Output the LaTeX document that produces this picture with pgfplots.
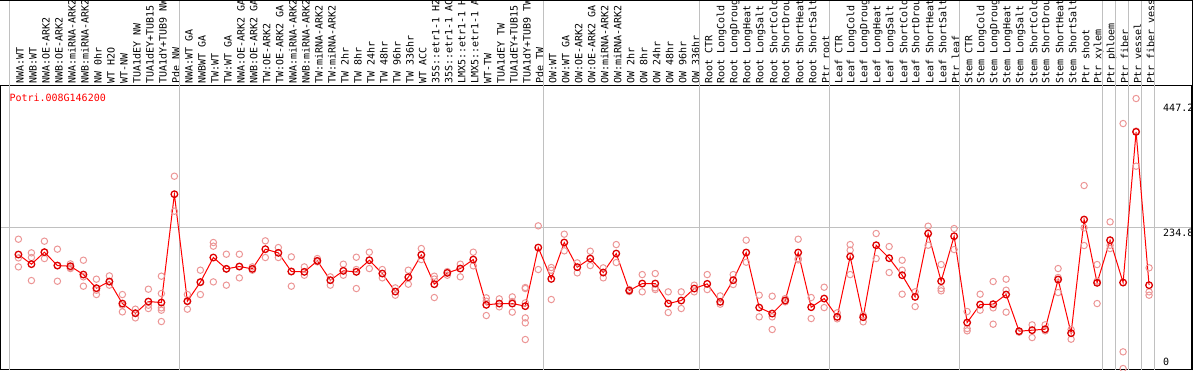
\documentclass[border=0pt]{standalone}
\usepackage{pgfplots}
\pgfplotsset{compat=1.18}
\usepackage{fontspec}
\newfontfamily\monofont{DejaVu Sans Mono}
\definecolor{repc}{RGB}{236,150,150}
\definecolor{meanc}{RGB}{220,0,0}
\definecolor{linec}{RGB}{255,0,0}
\definecolor{gridc}{RGB}{192,192,192}
\newcommand{\lblfont}{\monofont\fontsize{10}{12}\selectfont}
\begin{document}
\begin{tikzpicture}[x=1pt,y=1pt]
\useasboundingbox (0,0) rectangle (1194,370);
\begin{axis}[
  at={(1,0.5)}, anchor=south west, scale only axis,
  width=1191.5pt, height=284pt,
  xmin=-0.408, xmax=91.27, ymin=-1.67, ymax=471.67,
  axis line style={line width=1pt, black},
  xtick={1,...,88},
  xticklabels={NWA:WT,NWB:WT,NWA:OE-ARK2,NWB:OE-ARK2,NWA:miRNA-ARK2,NWB:miRNA-ARK2,NW 0hr,WT H2O,WT-NW,TUA1dEY NW,TUA1dEY+TUB15,TUA1dY+TUB9 NW,Pde NW,
    NWA:WT GA,NWBWT GA,TW:WT,TW:WT GA,NWA:OE-ARK2 GA,NWB:OE-ARK2 GA,TW:OE-ARK2,TW:OE-ARK2 GA,NWA:miRNA-ARK2 GA,NWB:miRNA-ARK2 GA,TW:miRNA-ARK2,TW:miRNA-ARK2 GA,TW 2hr,TW 8hr,TW 24hr,TW 48hr,TW 96hr,TW 336hr,WT ACC,35S::etr1-1 H2O,35S::etr1-1 ACC,LMX5::etr1-1 H2O,LMX5::etr1-1 ACC,WT-TW,TUA1dEY TW,TUA1dEY+TUB15 TW,TUA1dY+TUB9 TW,Pde TW,
    OW:WT,OW:WT GA,OW:OE-ARK2,OW:OE-ARK2 GA,OW:miRNA-ARK2,OW:miRNA-ARK2 GA,OW 2hr,OW 8hr,OW 24hr,OW 48hr,OW 96hr,OW 336hr,
    Root CTR,Root LongCold,Root LongDrought,Root LongHeat,Root LongSalt,Root ShortCold,Root ShortDrought,Root ShortHeat,Root ShortSalt,Ptr root,
    Leaf CTR,Leaf LongCold,Leaf LongDrought,Leaf LongHeat,Leaf LongSalt,Leaf ShortCold,Leaf ShortDrought,Leaf ShortHeat,Leaf ShortSalt,Ptr leaf,
    Stem CTR,Stem LongCold,Stem LongDrought,Stem LongHeat,Stem LongSalt,Stem ShortCold,Stem ShortDrought,Stem ShortHeat,Stem ShortSalt,Ptr shoot,Ptr xylem,
    Ptr phloem,Ptr fiber,Ptr vessel,Ptr fiber vessel},
  xticklabel pos=upper,
  xticklabel style={xshift=1.5pt, rotate=90, anchor=west, font=\lblfont, inner xsep=2pt, inner ysep=0pt, text=black},
  major tick length=0pt,
  ytick={234.8}, yticklabels={},
  ymajorgrids,
  grid style={gridc, line width=1pt},
  clip=false,
]
\pgfplotsinvokeforeach{0.3,13.4,41.4,53.4,63.4,73.4,84.4,85.4,86.4,87.4,88.4}{
  \draw[gridc, line width=1pt] (axis cs:#1,-1.67) -- (axis cs:#1,640);
}
\addplot[only marks, mark=o, mark size=3.2pt, mark options={draw=repc, line width=1pt}] table[row sep=\\] {
x y \\
1 215.8 \\ 1 184.7 \\ 1 169.7 \\
2 193.1 \\ 2 185.3 \\ 2 146.9 \\
3 212.5 \\ 3 194.2 \\ 3 183.6 \\
4 199.2 \\ 4 171.9 \\ 4 145.8 \\
5 174.7 \\ 5 168.1 \\ 5 166.9 \\
6 180.8 \\ 6 153.1 \\ 6 137.5 \\
7 149.2 \\ 7 130.8 \\ 7 123.6 \\
8 154.7 \\ 8 144.7 \\ 8 139.2 \\
9 123.6 \\ 9 105.8 \\ 9 94.7 \\
10 99.2 \\ 10 91.9 \\ 10 84.7 \\
11 132.5 \\ 11 105.8 \\ 11 100.3 \\
12 154.2 \\ 12 125.3 \\ 12 101.4 \\ 12 97.5 \\ 12 78.6 \\
13 320.8 \\ 13 262.5 \\
14 123.6 \\ 14 112.5 \\ 14 99.2 \\
15 164.2 \\ 15 144.7 \\ 15 123.6 \\
16 210.3 \\ 16 204.2 \\ 16 144.7 \\
17 190.8 \\ 17 166.4 \\ 17 139.2 \\
18 190.8 \\ 18 170.3 \\ 18 151.4 \\
19 169.7 \\ 19 164.2 \\
20 213.1 \\ 20 185.3 \\
21 201.9 \\ 21 185.3 \\
22 186.4 \\ 22 162.0 \\ 22 137.5 \\
23 169.7 \\ 23 155.8 \\
24 183.6 \\ 24 178.1 \\
25 153.1 \\ 25 139.2 \\
26 174.2 \\ 26 155.8 \\
27 185.8 \\ 27 165.3 \\ 27 133.6 \\
28 194.2 \\ 28 166.9 \\
29 165.3 \\ 29 151.4 \\
30 134.7 \\ 30 122.5 \\
31 164.2 \\ 31 140.8 \\
32 200.3 \\ 32 181.9 \\
33 154.2 \\ 33 149.4 \\ 33 118.6 \\
34 161.9 \\ 34 155.8 \\
35 174.2 \\ 35 153.1 \\
36 194.2 \\ 36 171.4 \\
37 118.1 \\ 37 112.5 \\ 37 88.6 \\
38 116.4 \\ 38 103.1 \\
39 119.7 \\ 39 112.0 \\ 39 94.2 \\
40 135.3 \\ 40 133.6 \\ 40 109.7 \\ 40 84.7 \\ 40 76.4 \\ 40 48.6 \\
41 238.1 \\ 41 165.3 \\
42 168.6 \\ 42 164.2 \\ 42 115.3 \\
43 224.2 \\ 43 196.4 \\
44 176.4 \\ 44 159.7 \\
45 195.8 \\ 45 171.9 \\
46 168.1 \\ 46 151.4 \\
47 206.9 \\ 47 176.9 \\
48 132.0 \\ 48 130.3 \\ 48 128.6 \\
49 156.9 \\ 49 128.1 \\
50 158.6 \\ 50 134.7 \\ 50 131.9 \\
51 128.1 \\ 51 93.6 \\
52 128.1 \\ 52 100.3 \\
53 139.2 \\ 53 128.1 \\
54 156.9 \\ 54 131.9 \\
55 121.4 \\ 55 107.5 \\
56 156.9 \\ 56 140.3 \\
57 214.2 \\ 57 177.5 \\
58 122.5 \\ 58 86.4 \\
59 120.8 \\ 59 86.4 \\ 59 65.3 \\
60 116.9 \\ 60 111.4 \\
61 215.8 \\ 61 183.6 \\ 61 181.4 \\
62 118.6 \\ 62 83.6 \\
63 135.8 \\ 63 101.9 \\
64 93.1 \\ 64 83.1 \\
65 206.9 \\ 65 197.5 \\ 65 156.9 \\
66 89.2 \\ 66 78.1 \\
67 225.3 \\ 67 183.6 \\
68 203.6 \\ 68 160.3 \\
69 180.8 \\ 69 164.2 \\ 69 124.2 \\
70 128.1 \\ 70 103.6 \\
71 237.5 \\ 71 205.8 \\
72 173.6 \\ 72 133.6 \\ 72 129.7 \\
73 233.6 \\ 73 198.6 \\
74 95.3 \\ 74 66.9 \\ 74 63.1 \\
75 124.2 \\ 75 97.5 \\
76 145.3 \\ 76 101.4 \\ 76 74.2 \\
77 149.2 \\ 77 130.8 \\ 77 94.2 \\
78 62.5 \\ 78 60.8 \\
79 73.1 \\ 79 51.9 \\
80 73.1 \\ 80 63.1 \\
81 166.9 \\ 81 152.0 \\ 81 126.9 \\
82 65.3 \\ 82 49.2 \\
83 305.3 \\ 83 234.7 \\ 83 205.3 \\
84 173.6 \\ 84 145.8 \\ 84 108.6 \\
85 244.7 \\ 85 205.8 \\ 85 200.3 \\
86 408.6 \\ 86 28.1 \\ 86 0.3 \\
87 450.3 \\ 87 396.0 \\ 87 337.5 \\
88 168.1 \\ 88 128.1 \\ 88 122.5 \\
};
\addplot[linec, line width=1pt, mark=o, mark size=3.3pt, mark options={draw=meanc, line width=1.3pt}] table[row sep=\\] {
x y \\
1 190.3 \\ 2 174.2 \\ 3 194.2 \\ 4 171.9 \\ 5 170.8 \\ 6 156.9 \\ 7 134.2 \\ 8 145.3 \\
9 108.6 \\ 10 92.5 \\ 11 111.9 \\ 12 110.3 \\ 13 290.8 \\ 14 112.5 \\ 15 144.2 \\ 16 185.3 \\
17 166.4 \\ 18 170.3 \\ 19 166.4 \\ 20 199.2 \\ 21 193.1 \\ 22 162.0 \\ 23 161.4 \\ 24 179.7 \\
25 147.5 \\ 26 163.1 \\ 27 161.4 \\ 28 180.8 \\ 29 158.6 \\ 30 128.6 \\ 31 152.5 \\ 32 189.7 \\
33 140.8 \\ 34 159.7 \\ 35 166.9 \\ 36 181.9 \\ 37 106.4 \\ 38 108.6 \\ 39 108.6 \\ 40 104.2 \\
41 201.9 \\ 42 149.7 \\ 43 210.3 \\ 44 169.2 \\ 45 183.6 \\ 46 160.3 \\ 47 191.9 \\ 48 130.3 \\
49 141.9 \\ 50 141.9 \\ 51 108.6 \\ 52 113.6 \\ 53 133.6 \\ 54 141.4 \\ 55 111.4 \\ 56 147.5 \\
57 193.6 \\ 58 101.9 \\ 59 91.9 \\ 60 113.6 \\ 61 193.6 \\ 62 102.5 \\ 63 116.9 \\ 64 86.4 \\
65 186.9 \\ 66 85.8 \\ 67 205.8 \\ 68 184.2 \\ 69 155.8 \\ 70 119.7 \\ 71 225.3 \\ 72 145.8 \\
73 220.8 \\ 74 76.9 \\ 75 106.9 \\ 76 107.5 \\ 77 123.6 \\ 78 62.5 \\ 79 64.2 \\ 80 65.8 \\
81 148.6 \\ 82 59.2 \\ 83 248.6 \\ 84 143.1 \\ 85 214.2 \\ 86 143.6 \\ 87 394.7 \\ 88 139.2 \\
};
\end{axis}
\draw[black, line width=1pt] (0,369.5) -- (1193,369.5);
\draw[black, line width=1pt] (1192.5,0) -- (1192.5,370);
\node[anchor=west, inner sep=0pt, text=red, font=\lblfont] at (9.3,272.5) {Potri.008G146200};
\node[anchor=west, inner sep=0pt, font=\lblfont] at (1163,262.3) {447.2};
\node[anchor=west, inner sep=0pt, font=\lblfont] at (1163,137.3) {234.8};
\node[anchor=west, inner sep=0pt, font=\lblfont] at (1163,8.3) {0};
\end{tikzpicture}
\end{document}
